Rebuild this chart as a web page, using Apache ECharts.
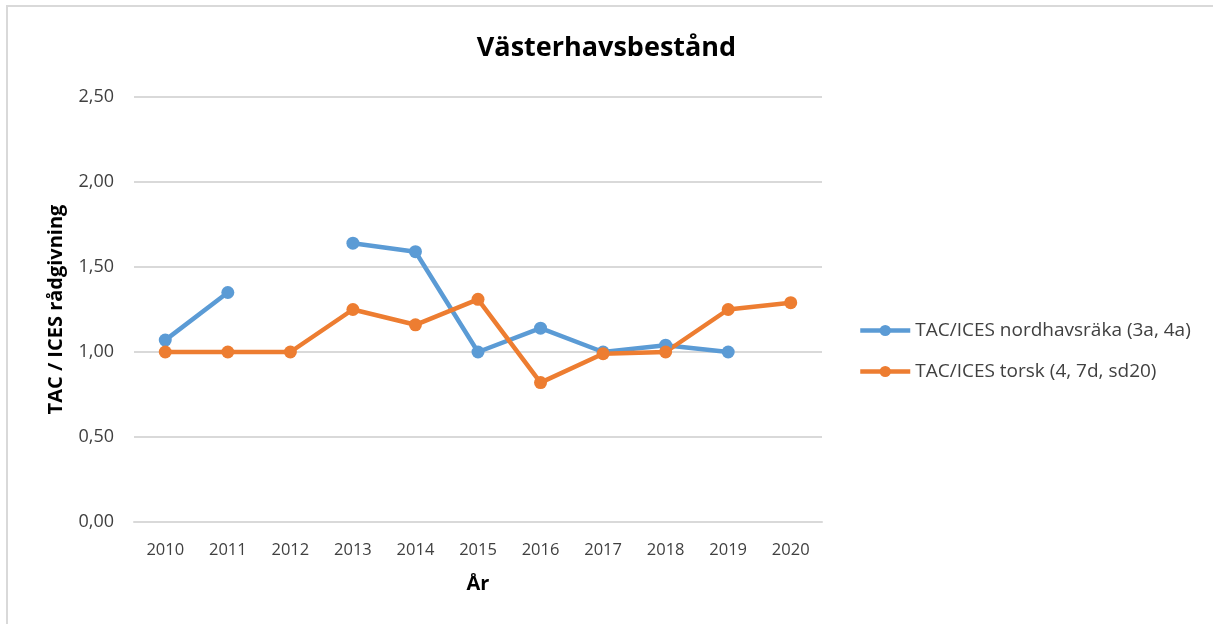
<!DOCTYPE html>
<html>
<head>
<meta charset="utf-8">
<script src="https://cdn.jsdelivr.net/npm/echarts@6/dist/echarts.min.js"></script>
<style>
html,body{margin:0;padding:0;background:#fff;}
#chart{width:1213px;height:624px;}
</style>
</head>
<body>
<div id="chart"></div>
<script>
const years = ['2010','2011','2012','2013','2014','2015','2016','2017','2018','2019','2020'];
const rakaValues = [1.07, 1.35, null, 1.64, 1.59, 1.00, 1.14, 1.00, 1.04, 1.00, null];
const torskValues = [1.00, 1.00, 1.00, 1.25, 1.16, 1.31, 0.82, 0.99, 1.00, 1.25, 1.29];
const seriesNames = ['TAC/ICES nordhavsräka (3a, 4a)', 'TAC/ICES torsk (4, 7d, sd20)'];

const FONT = '"Open Sans", "Noto Sans", sans-serif';
const chart = echarts.init(document.getElementById('chart'), null, {renderer: 'canvas'});
chart.setOption({
  backgroundColor: '#fff',
  animation: false,
  title: {
    text: 'Västerhavsbestånd',
    left: 'center',
    top: 30,
    textStyle: {fontFamily: FONT, fontWeight: 'bold', fontSize: 27, color: '#000'}
  },
  graphic: [
    {type: 'rect', shape: {x: 6, y: 5, width: 1207, height: 2}, style: {fill: '#d9d9d9'}, silent: true},
    {type: 'rect', shape: {x: 6, y: 5, width: 2, height: 619}, style: {fill: '#d9d9d9'}, silent: true}
  ],
  grid: {left: 134, right: 391, top: 97, bottom: 102, containLabel: false},
  legend: {
    orient: 'vertical',
    left: 853,
    top: 316,
    itemWidth: 50,
    itemHeight: 14,
    itemGap: 22,
    lineStyle: {width: 4.5},
    textStyle: {fontFamily: FONT, fontSize: 19, color: '#404040'},
    data: seriesNames
  },
  xAxis: {
    type: 'category',
    data: years,
    boundaryGap: true,
    name: 'År',
    nameLocation: 'middle',
    nameGap: 52,
    nameTextStyle: {fontFamily: FONT, fontWeight: 'bold', fontSize: 20, color: '#000'},
    axisLine: {show: true, lineStyle: {color: '#d9d9d9', width: 2}},
    axisTick: {show: false},
    axisLabel: {fontFamily: FONT, fontSize: 16.5, color: '#404040', margin: 20}
  },
  yAxis: {
    type: 'value',
    min: 0,
    max: 2.5,
    interval: 0.5,
    name: 'TAC / ICES rådgivning',
    nameLocation: 'middle',
    nameGap: 68,
    nameTextStyle: {fontFamily: FONT, fontWeight: 'bold', fontSize: 20, color: '#000'},
    axisLine: {show: false},
    axisTick: {show: false},
    splitLine: {lineStyle: {color: '#d9d9d9', width: 2}},
    axisLabel: {
      fontFamily: FONT, fontSize: 18, color: '#404040', margin: 20,
      formatter: v => v.toFixed(2).replace('.', ',')
    }
  },
  series: [
    {
      name: seriesNames[0],
      type: 'line',
      data: rakaValues,
      connectNulls: false,
      symbol: 'circle',
      symbolSize: 13,
      lineStyle: {color: '#5b9bd5', width: 4.5},
      itemStyle: {color: '#5b9bd5'}
    },
    {
      name: seriesNames[1],
      type: 'line',
      data: torskValues,
      symbol: 'circle',
      symbolSize: 13,
      lineStyle: {color: '#ed7d31', width: 4.5},
      itemStyle: {color: '#ed7d31'}
    }
  ]
});
</script>
</body>
</html>
